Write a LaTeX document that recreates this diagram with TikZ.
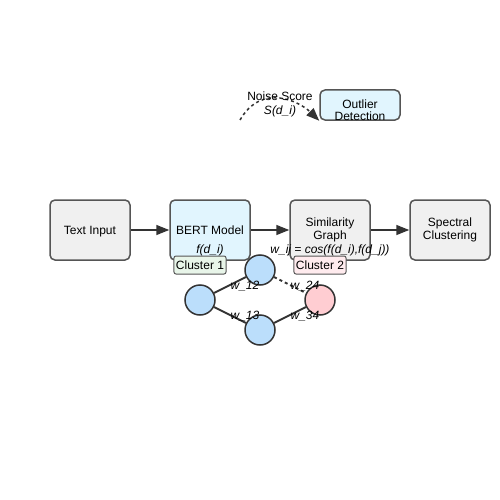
\documentclass[tikz,border=0pt]{standalone}
\usepackage{fontspec}
\setmainfont{Liberation Sans}
\usetikzlibrary{arrows.meta}
\definecolor{boxGray}{RGB}{240,240,240}
\definecolor{edgeGray}{RGB}{51,51,51}
\definecolor{borderGray}{RGB}{85,85,85}
\definecolor{bertBlue}{RGB}{225,245,254}
\definecolor{docBlue}{RGB}{187,222,251}
\definecolor{noisePink}{RGB}{255,205,210}
\definecolor{clusterGreen}{RGB}{232,245,233}
\definecolor{clusterPink}{RGB}{255,235,238}
\tikzset{
  stagebox/.style={draw=borderGray,line width=1.5pt,fill=boxGray,rounded corners=5pt,minimum width=80pt,minimum height=60pt,align=center,font=\fontsize{12}{13}\selectfont},
  docnode/.style={circle,draw=edgeGray,line width=1.5pt,fill=docBlue,minimum size=30pt,inner sep=0pt},
  clusterbox/.style={draw=borderGray,line width=1pt,fill=clusterGreen,rounded corners=2pt,inner sep=2pt,minimum width=50pt,minimum height=18pt,font=\fontsize{12}{13}\selectfont},
  mathlabel/.style={font=\fontsize{12}{13}\selectfont\itshape,inner sep=0pt},
  flow/.style={-{Triangle[length=13pt,width=10pt]},line width=1.5pt,edgeGray},
  simedge/.style={line width=2pt,edgeGray}
}
\begin{document}
\begin{tikzpicture}[x=1pt,y=-1pt]
    \useasboundingbox (0,0) rectangle (500,500);
    % Pipeline
    \node[stagebox,text depth=0pt] (input) at (90,230) {Text Input};
    \node[stagebox,fill=bertBlue] (bert) at (210,230) {BERT Model};
    \node[stagebox] (graph) at (330,230) {Similarity\\Graph};
    \node[stagebox] (spectral) at (450,230) {Spectral\\Clustering};

    \draw[flow] (input) -- (bert);
    \draw[flow] (bert) -- (graph);
    \draw[flow] (graph) -- (spectral);

    % Outlier branch
    \node[stagebox,fill=bertBlue,minimum height=30pt] (outlier) at (360,105) {};
    \node[font=\fontsize{12}{12}\selectfont,align=center,inner sep=0pt] (outlierText) at (360,110) {Outlier\\Detection};
    \coordinate (noiseStart) at (240,120);
    \draw[flow,dashed] (noiseStart) .. controls (262,82) and (300,102) .. (outlier.south west);
    \node[font=\fontsize{12}{13}\selectfont,inner sep=0pt] (noiseLabel) at (280,96) {Noise Score};
    \node[mathlabel] (noiseMath) at (280,111) {S(d\_i)};

    % Formulas
    \node[mathlabel] (embed) at (210,250) {f(d\_i)};
    \node[mathlabel] (weight) at (330,250) {w\_ij = cos(f(d\_i),f(d\_j))};

    % Document graph
    \node[docnode] (d1) at (200,300) {};
    \node[docnode] (d2) at (260,270) {};
    \node[docnode] (d3) at (260,330) {};
    \node[docnode,fill=noisePink] (d4) at (320,300) {};

    \draw[simedge] (d1) -- (d2);
    \draw[simedge] (d1) -- (d3);
    \draw[simedge] (d3) -- (d4);
    \draw[simedge,dashed] (d2) -- (d4);

    \node[mathlabel] (w12) at (245,286) {w\_12};
    \node[mathlabel] (w13) at (245,316) {w\_13};
    \node[mathlabel] (w24) at (305,286) {w\_24};
    \node[mathlabel] (w34) at (305,316) {w\_34};

    % Cluster tags
    \node[clusterbox] (c1) at (200,265) {Cluster 1};
    \node[clusterbox,fill=clusterPink] (c2) at (320,265) {Cluster 2};
\end{tikzpicture}
\end{document}
